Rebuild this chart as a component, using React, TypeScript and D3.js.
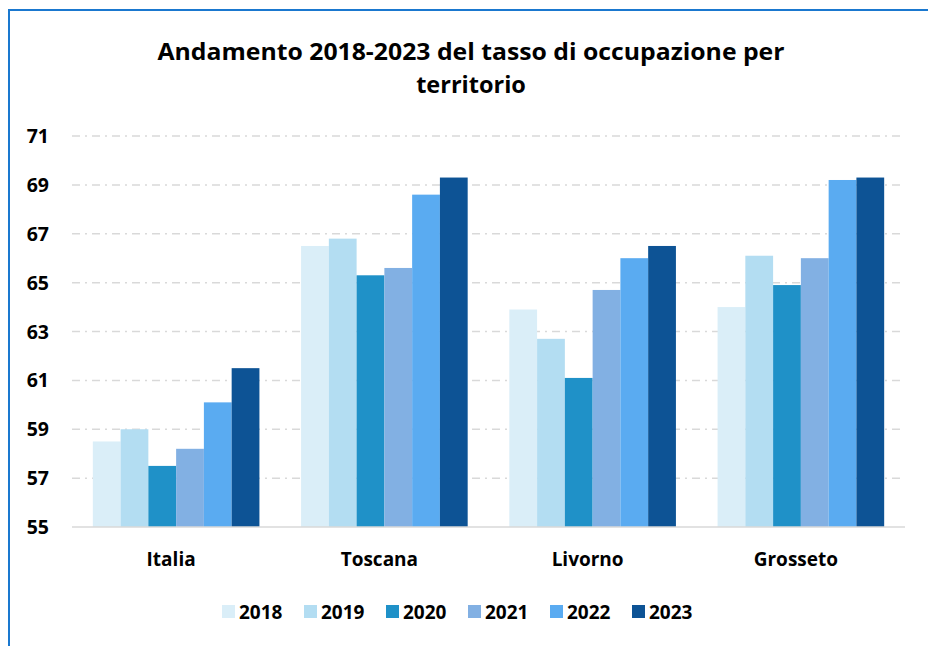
import * as d3 from "d3";

const territories = ["Italia", "Toscana", "Livorno", "Grosseto"];
const years = ["2018", "2019", "2020", "2021", "2022", "2023"];

// tasso di occupazione, one array per year, in territory order
const v2018 = [58.5, 66.5, 63.9, 64.0];
const v2019 = [59.0, 66.8, 62.7, 66.1];
const v2020 = [57.5, 65.3, 61.1, 64.9];
const v2021 = [58.2, 65.6, 64.7, 66.0];
const v2022 = [60.1, 68.6, 66.0, 69.2];
const v2023 = [61.5, 69.3, 66.5, 69.3];

const yTicks = [55, 57, 59, 61, 63, 65, 67, 69, 71];

const colors = ["#daeef8", "#b3ddf2", "#1f91c8", "#82b0e3", "#5aabf1", "#0d5395"];

const series = [v2018, v2019, v2020, v2021, v2022, v2023];

const width = 928;
const height = 646;
const margin = { top: 136, bottom: 119, left: 72, right: 23 };
const font = "'Open Sans', sans-serif";

export default function App() {
  const bottom = height - margin.bottom;

  const x0 = d3
    .scaleBand()
    .domain(territories)
    .range([margin.left, width - margin.right])
    .paddingInner(0.2)
    .paddingOuter(0.1);

  const x1 = d3.scaleBand().domain(years).range([0, x0.bandwidth()]);

  const y = d3.scaleLinear().domain([55, 71]).range([bottom, margin.top]);

  const legendX = d3.scaleBand().domain(years).range([222, 714]);

  return (
    <svg
      width={width}
      height={height}
      viewBox={`0 0 ${width} ${height}`}
      style={{ position: "absolute", left: 0, top: 0, background: "#fff" }}
    >
      <rect x={9} y={10} width={width + 20} height={height + 20} fill="#fff" stroke="#1a78cf" strokeWidth={2} />

      <g fontFamily={font} fontWeight="bold" fill="#000" textAnchor="middle" fontSize={23.5}>
        <text x={471} y={60} textLength={627} lengthAdjust="spacingAndGlyphs">
          Andamento 2018-2023 del tasso di occupazione per
        </text>
        <text x={471} y={93}>territorio</text>
      </g>

      <g className="grid">
        {yTicks.slice(1).map((t) => (
          <line
            key={t}
            x1={margin.left}
            x2={width - margin.right}
            y1={y(t)}
            y2={y(t)}
            stroke="#d9d9d9"
            strokeWidth={1.5}
            strokeDasharray="8,5,2,5"
          />
        ))}
      </g>

      <g className="bars">
        {territories.map((c, i) => (
          <g key={c} transform={`translate(${x0(c)},0)`}>
            {years.map((yr, j) => (
              <rect
                key={yr}
                x={x1(yr)}
                y={y(series[j][i])}
                width={x1.bandwidth()}
                height={bottom - y(series[j][i])}
                fill={colors[j]}
              />
            ))}
          </g>
        ))}
      </g>

      <line x1={margin.left} x2={width - margin.right} y1={bottom} y2={bottom} stroke="#d9d9d9" strokeWidth={1.5} />

      <g className="y-axis" fontFamily={font} fontWeight="bold" fontSize={19.5} textAnchor="end">
        {yTicks.map((t) => (
          <text key={t} x={49} y={y(t)} dy="0.36em">
            {t}
          </text>
        ))}
      </g>

      <g className="x-axis" fontFamily={font} fontWeight="bold" fontSize={19} textAnchor="middle">
        {territories.map((c) => (
          <text key={c} x={(x0(c) ?? 0) + x0.bandwidth() / 2 - 5} y={566}>
            {c}
          </text>
        ))}
      </g>

      <g className="legend" fontFamily={font} fontWeight="bold" fontSize={19}>
        {years.map((yr, j) => (
          <g key={yr} transform={`translate(${legendX(yr)},605)`}>
            <rect width={13} height={13} fill={colors[j]} />
            <text x={17} y={14}>
              {yr}
            </text>
          </g>
        ))}
      </g>
    </svg>
  );
}
